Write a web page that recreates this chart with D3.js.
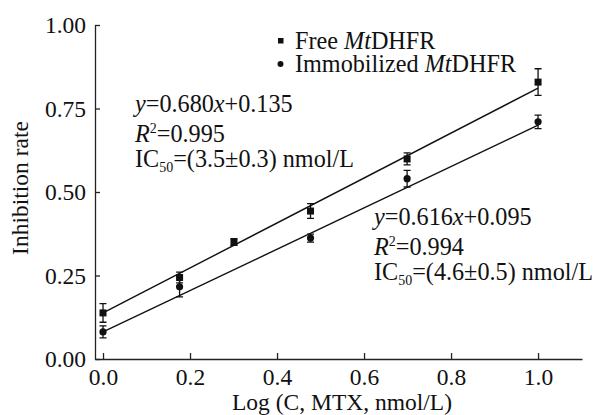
<!DOCTYPE html>
<html>
<head>
<meta charset="utf-8">
<script src="https://cdn.jsdelivr.net/npm/d3@7"></script>
<style>
  body { margin: 0; background: #fff; }
  .axis path, .axis line { stroke: #222; stroke-width: 1.3; }
</style>
</head>
<body>
<svg id="chart" width="597" height="415"></svg>
<script>
const FONT = "Liberation Serif, Times New Roman, serif";
const FS = 23.5;   // axis text
const FS2 = 24.2;  // legend / equations

// log concentration of MTX
const xFree = [0, 0.176, 0.301, 0.477, 0.699, 1.0];
const yFree = [0.138, 0.244, 0.350, 0.443, 0.599, 0.829];
const eFree = [0.028, 0.016, 0.010, 0.022, 0.018, 0.040];

const xImm = [0, 0.176, 0.477, 0.699, 1.0];
const yImm = [0.081, 0.216, 0.362, 0.540, 0.710];
const eImm = [0.018, 0.030, 0.012, 0.025, 0.020];

// fitted lines as drawn (endpoints)
const lineFree = [[0, 0.138], [1, 0.811]];
const lineImm = [[0, 0.081], [1, 0.700]];

const xTicks = [0, 0.2, 0.4, 0.6, 0.8, 1.0];
const yTicks = [0, 0.25, 0.5, 0.75, 1.0];

const svg = d3.select("#chart").attr("font-family", FONT);

const x = d3.scaleLinear().domain([-0.0184, 1.101]).range([95, 582]);
const y = d3.scaleLinear().domain([0, 1]).range([359, 25]);

// axes
let gx = svg.append("g")
    .attr("class", "axis")
    .attr("transform", `translate(0,${y(0)})`)
    .call(d3.axisBottom(x).tickValues(xTicks).tickFormat(d3.format(".1f"))
        .tickSizeInner(-6).tickSizeOuter(0).tickPadding(9));
gx.attr("font-family", FONT).attr("font-size", FS);
gx.selectAll("text").attr("fill", "#111");

let gy = svg.append("g")
    .attr("class", "axis")
    .attr("transform", `translate(${x.range()[0]},0)`)
    .call(d3.axisLeft(y).tickValues(yTicks).tickFormat(d3.format(".2f"))
        .tickSizeInner(-5).tickSizeOuter(0).tickPadding(9));
gy.attr("font-family", FONT).attr("font-size", FS);
gy.selectAll("text").attr("fill", "#111");

// axis titles
svg.append("text")
    .attr("x", 342).attr("y", 410)
    .attr("text-anchor", "middle")
    .attr("font-size", FS)
    .attr("fill", "#111")
    .text("Log (C, MTX, nmol/L)");

svg.append("text")
    .attr("transform", "translate(28,188) rotate(-90)")
    .attr("text-anchor", "middle")
    .attr("font-size", FS)
    .attr("fill", "#111")
    .text("Inhibition rate");

// fit lines
const line = d3.line().x(d => x(d[0])).y(d => y(d[1]));
[lineFree, lineImm].forEach(l => {
    svg.append("path")
        .attr("d", line(l))
        .attr("fill", "none")
        .attr("stroke", "#111")
        .attr("stroke-width", 1.4);
});

// error bars + markers
function drawSeries(xs, ys, es, shape) {
    const g = svg.append("g");
    const pts = xs.map((d, i) => ({x: d, y: ys[i], e: es[i]}));
    const cap = 3.5;
    g.selectAll(".eb")
        .data(pts)
        .enter().append("path")
        .attr("fill", "none")
        .attr("stroke", "#111")
        .attr("stroke-width", 1.3)
        .attr("d", d => {
            const cx = x(d.x), t = y(d.y + d.e), b = y(d.y - d.e);
            return `M${cx - cap},${t}H${cx + cap}M${cx},${t}V${b}M${cx - cap},${b}H${cx + cap}`;
        });
    if (shape === "square") {
        g.selectAll(".m")
            .data(pts)
            .enter().append("rect")
            .attr("x", d => x(d.x) - 3.5)
            .attr("y", d => y(d.y) - 3.5)
            .attr("width", 7)
            .attr("height", 7)
            .attr("fill", "#111");
    } else {
        g.selectAll(".m")
            .data(pts)
            .enter().append("circle")
            .attr("cx", d => x(d.x))
            .attr("cy", d => y(d.y))
            .attr("r", 3.6)
            .attr("fill", "#111");
    }
}
drawSeries(xFree, yFree, eFree, "square");
drawSeries(xImm, yImm, eImm, "circle");

// legend
svg.append("rect")
    .attr("x", 278).attr("y", 38).attr("width", 5.5).attr("height", 5.5)
    .attr("fill", "#111");
svg.append("circle")
    .attr("cx", 280.5).attr("cy", 64).attr("r", 3)
    .attr("fill", "#111");

function richText(xp, yp, parts) {
    const t = svg.append("text")
        .attr("x", xp).attr("y", yp)
        .attr("font-size", FS2)
        .attr("fill", "#111");
    parts.forEach(p => {
        const s = t.append("tspan").text(p.t);
        if (p.i) s.attr("font-style", "italic");
        if (p.sup) s.attr("font-size", 14).attr("dy", -9);
        if (p.sub) s.attr("font-size", 14).attr("dy", 5);
        if (p.back) s.attr("dy", p.back);
    });
    return t;
}

richText(295, 49, [{t: "Free "}, {t: "Mt", i: true}, {t: "DHFR"}]);
richText(295, 72, [{t: "Immobilized "}, {t: "Mt", i: true}, {t: "DHFR"}]);

function eqBlock(xp, yp, slope, icpt, r2, ic) {
    richText(xp, yp, [{t: "y", i: true}, {t: "=" + slope}, {t: "x", i: true}, {t: "+" + icpt}]);
    richText(xp, yp + 30, [{t: "R", i: true}, {t: "2", sup: true}, {t: "=" + r2, back: 9}]);
    richText(xp, yp + 55, [{t: "IC"}, {t: "50", sub: true}, {t: "=(" + ic + ") nmol/L", back: -5}]);
}
eqBlock(135, 112, "0.680", "0.135", "0.995", "3.5±0.3");
eqBlock(374, 225, "0.616", "0.095", "0.994", "4.6±0.5");
</script>
</body>
</html>
